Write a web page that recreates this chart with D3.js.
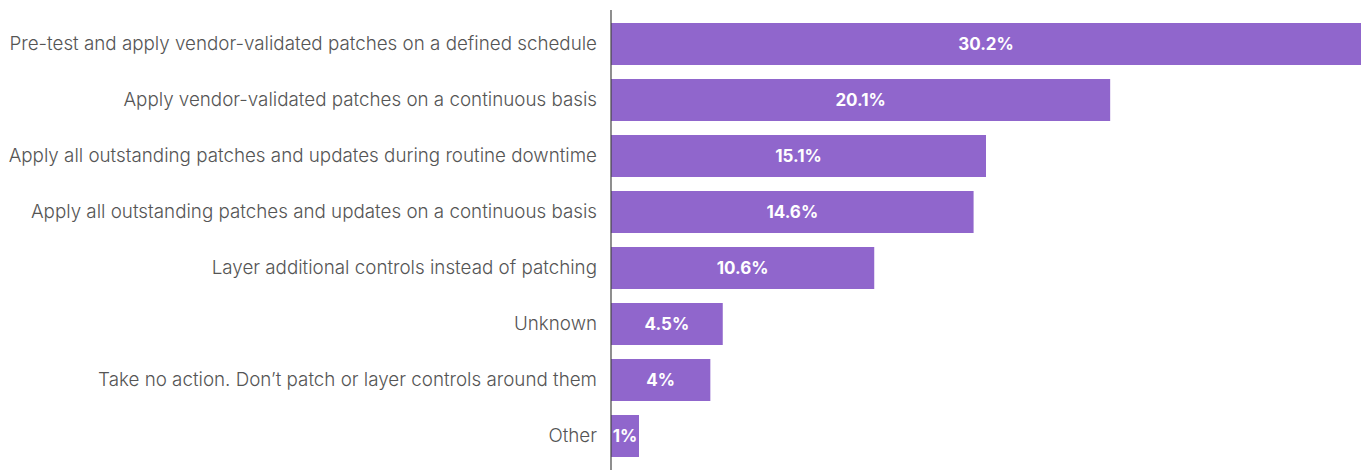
<!DOCTYPE html>
<html>
<head>
<meta charset="utf-8">
<script src="https://cdn.jsdelivr.net/npm/d3@7"></script>
<style>
  body { margin: 0; background: #fff; }
  svg { display: block; font-family: Inter, "Noto Sans", sans-serif; }
</style>
</head>
<body>
<svg id="chart" width="1366" height="470"></svg>
<script>
// answers and their shares (percent)
var categories = [
  "Pre-test and apply vendor-validated patches on a defined schedule",
  "Apply vendor-validated patches on a continuous basis",
  "Apply all outstanding patches and updates during routine downtime",
  "Apply all outstanding patches and updates on a continuous basis",
  "Layer additional controls instead of patching",
  "Unknown",
  "Take no action. Don\u2019t patch or layer controls around them",
  "Other"
];
var values = [30.2, 20.1, 15.1, 14.6, 10.6, 4.5, 4, 1];
var valueLabels = ["30.2%", "20.1%", "15.1%", "14.6%", "10.6%", "4.5%", "4%", "1%"];

var svg = d3.select("#chart");
var x0 = 611; // axis position

var x = d3.scaleLinear()
  .domain([0, 30.2])
  .range([x0, 1361]);

var y = d3.scaleBand()
  .domain(categories)
  .range([16, 464])
  .paddingInner(0.25)
  .paddingOuter(0.125);

var data = categories.map(function(c, i) {
  return { cat: c, val: values[i], lab: valueLabels[i] };
});

var barW = function(d) { return Math.max(x(d.val) - x(0), 28); };

// bars
svg.append("g")
  .selectAll("rect")
  .data(data)
  .enter().append("rect")
  .attr("x", x(0))
  .attr("y", function(d) { return y(d.cat); })
  .attr("width", barW)
  .attr("height", y.bandwidth())
  .attr("fill", "#9066cc");

// values inside bars
svg.append("g")
  .selectAll("text")
  .data(data)
  .enter().append("text")
  .attr("x", function(d) { return x(0) + barW(d) / 2; })
  .attr("y", function(d) { return y(d.cat) + y.bandwidth() / 2; })
  .attr("dy", "0.35em")
  .attr("text-anchor", "middle")
  .attr("fill", "#fff")
  .attr("font-size", 17)
  .attr("font-weight", 700)
  .text(function(d) { return d.lab; });

// category axis
var yAxis = d3.axisLeft(y).tickSize(0).tickPadding(14);
var gy = svg.append("g")
  .attr("transform", "translate(" + x0 + ",0)")
  .call(yAxis);
gy.select(".domain").remove();
gy.selectAll("text")
  .attr("font-family", "Inter, 'Noto Sans', sans-serif")
  .attr("font-size", 18.8)
  .attr("font-weight", 300)
  .attr("fill", "#555");

svg.append("line")
  .attr("x1", x0).attr("x2", x0)
  .attr("y1", 10).attr("y2", 470)
  .attr("stroke", "#444")
  .attr("stroke-width", 1.2);
</script>
</body>
</html>
